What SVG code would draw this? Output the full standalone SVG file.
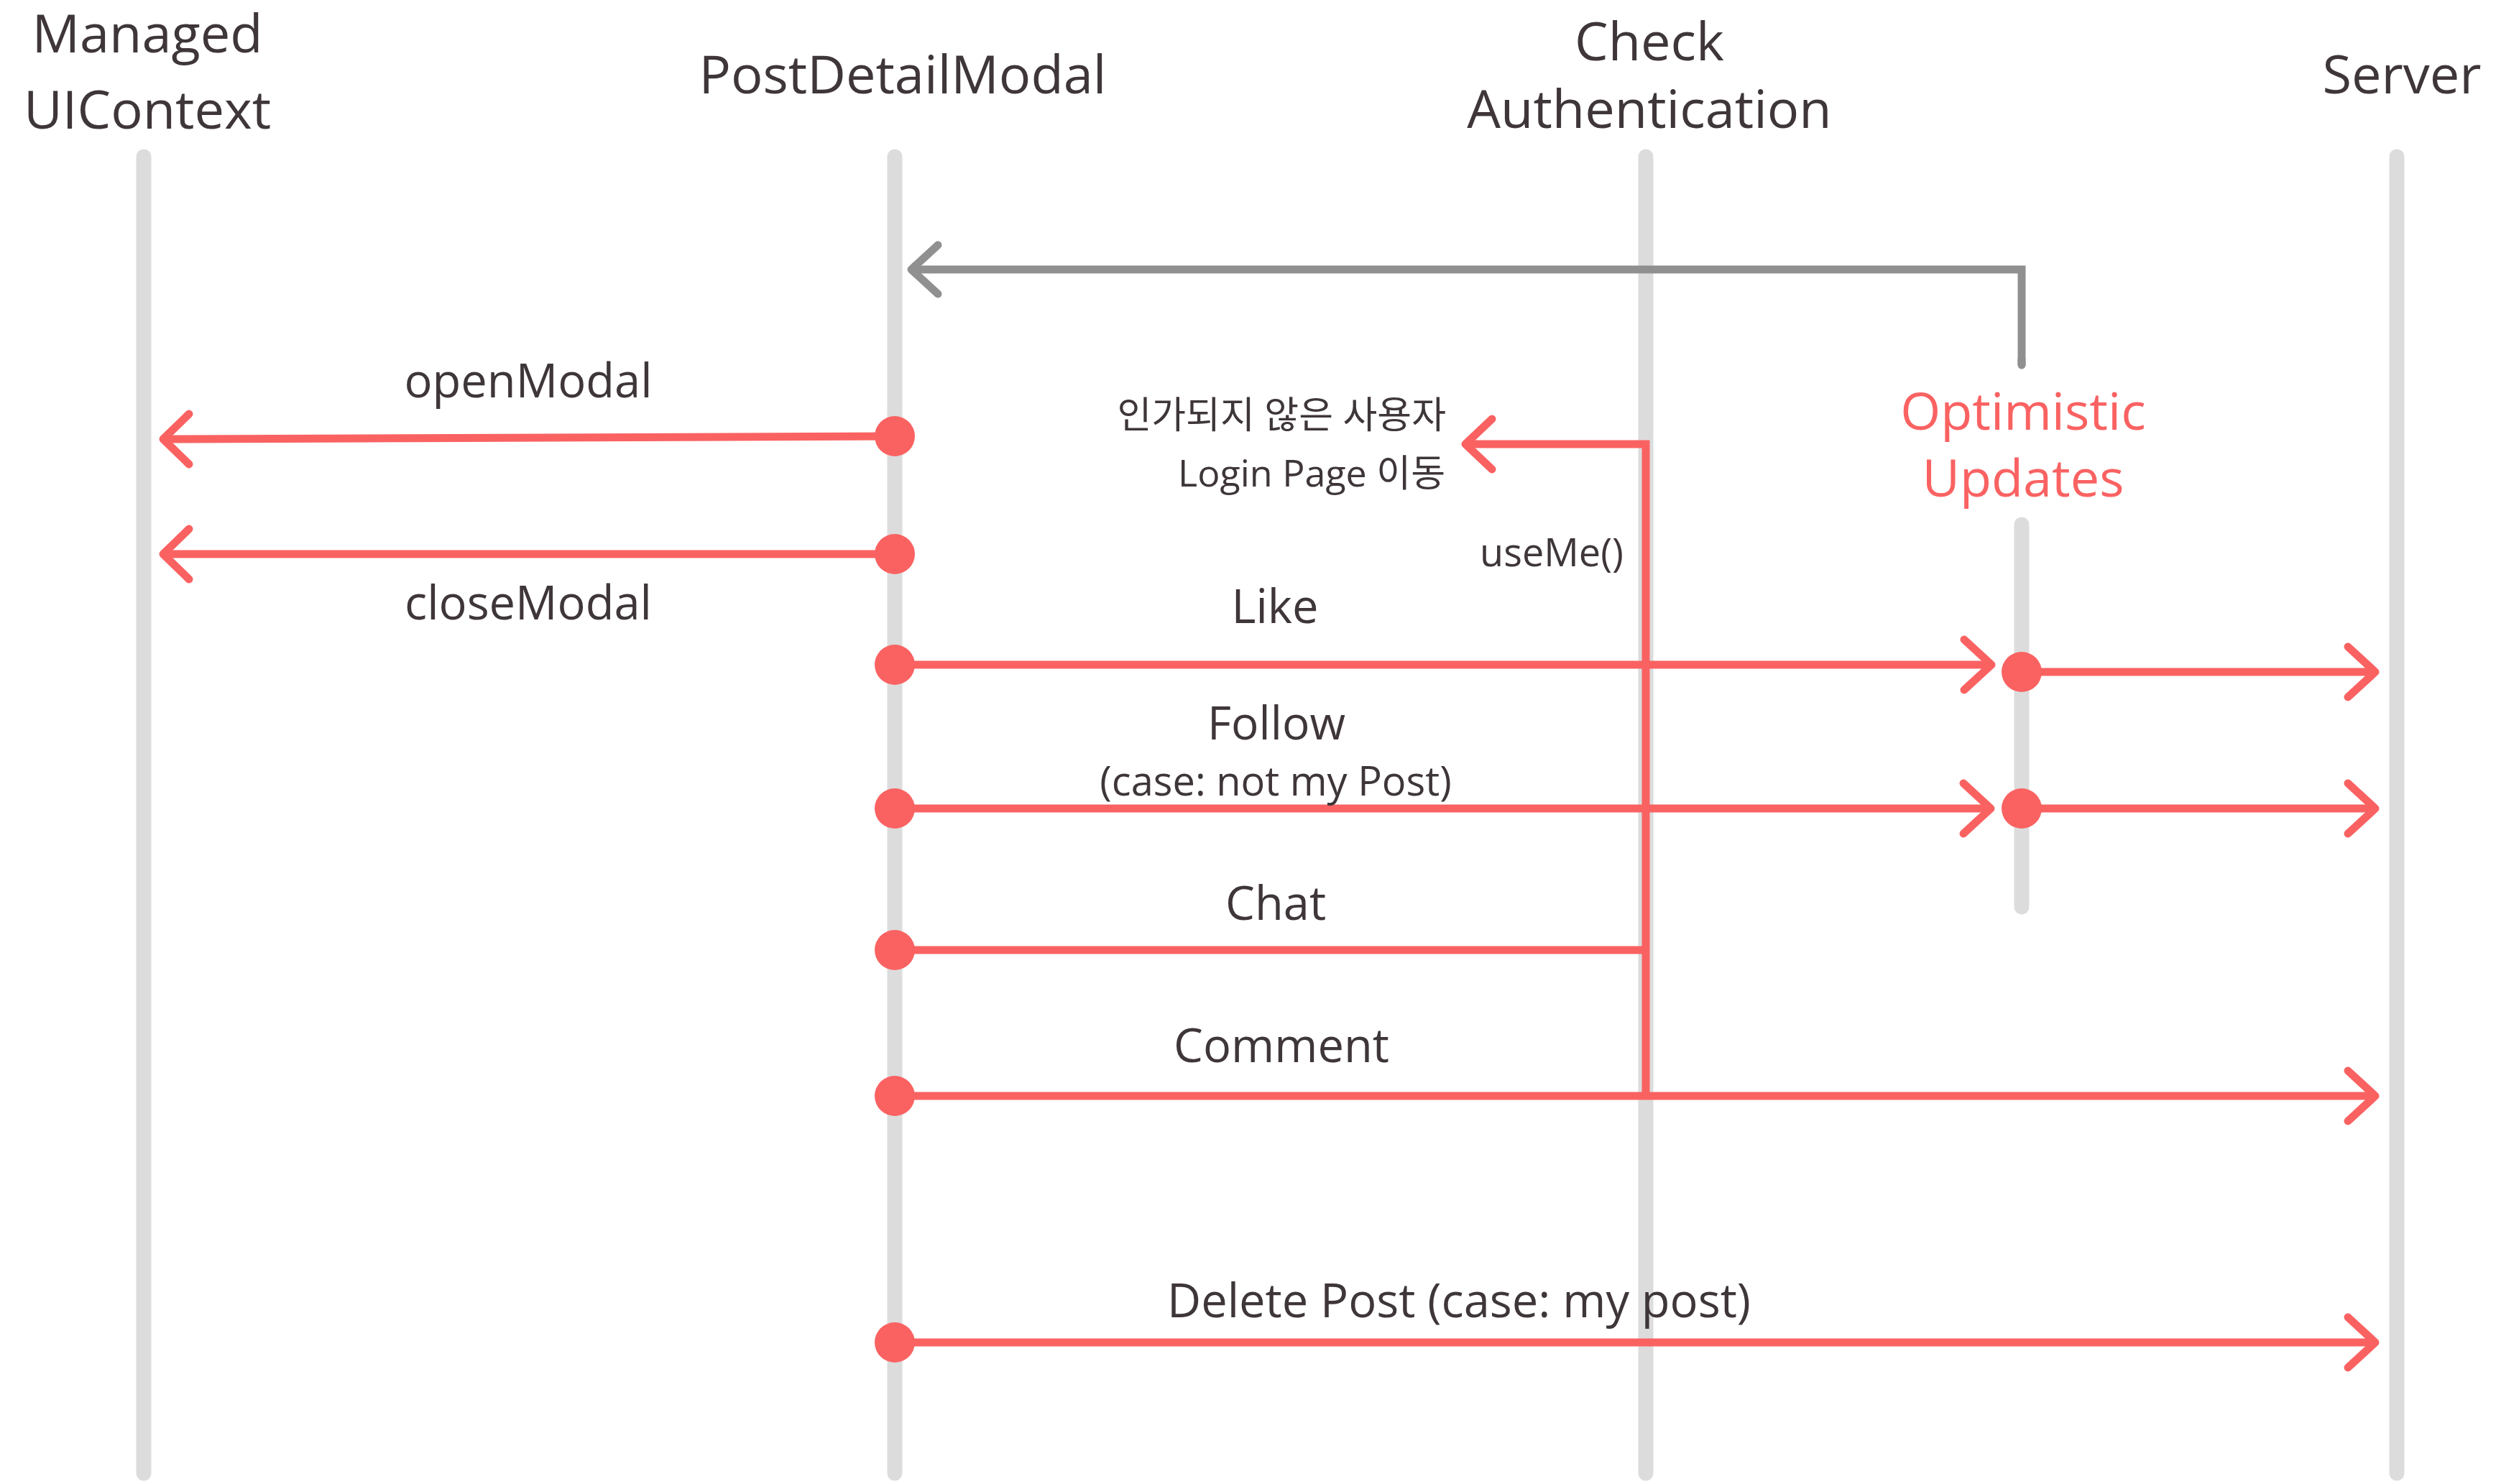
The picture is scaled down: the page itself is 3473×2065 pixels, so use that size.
<svg xmlns="http://www.w3.org/2000/svg" width="3473" height="2065" viewBox="0 0 3473 2065">
<style>
text{font-family:"Open Sans","Noto Sans CJK KR",sans-serif;fill:#3e3638}
.hdr{font-size:74px;text-anchor:middle}
.lbl{font-size:65px;text-anchor:middle}
.opt{font-size:72px;text-anchor:middle;fill:#fa6262}
.kr{font-size:52px;text-anchor:end}
.life{stroke:#dcdcdc;stroke-width:21;stroke-linecap:round;fill:none}
.msg{stroke:#fa6262;stroke-width:11;fill:none;stroke-linejoin:miter}
.head{stroke:#fa6262;stroke-width:11;fill:none;stroke-linecap:round;stroke-linejoin:round}
.gray{stroke:#909090;stroke-width:11;fill:none}
.dot{fill:#fa6262}
</style>
<rect width="3473" height="2065" fill="#ffffff"/>
<g id="node-managed-ui-context">
<line class="life" x1="200" y1="218" x2="200" y2="2050"/>
<text class="hdr" x="205" y="73">Managed</text>
<text class="hdr" x="205" y="179">UIContext</text>
</g>
<g id="node-post-detail-modal">
<line class="life" x1="1245" y1="218" x2="1245" y2="2050"/>
<text class="hdr" x="1256" y="130">PostDetailModal</text>
</g>
<g id="node-check-authentication">
<line class="life" x1="2290" y1="218" x2="2290" y2="2050"/>
<text class="hdr" x="2295" y="84">Check</text>
<text class="hdr" x="2295" y="178">Authentication</text>
</g>
<g id="node-optimistic-updates">
<line class="life" x1="2813" y1="730" x2="2813" y2="1262"/>
<text class="opt" x="2815" y="598">Optimistic</text>
<text class="opt" x="2815" y="691">Updates</text>
</g>
<g id="node-server">
<line class="life" x1="3335" y1="218" x2="3335" y2="2050"/>
<text class="hdr" x="3342" y="130">Server</text>
</g>
<g id="connectors">
<path class="gray" d="M2813 508 V375 H1270" stroke-linejoin="miter"/>
<line x1="2813" y1="508" x2="2813" y2="500" class="gray" stroke-linecap="round"/>
<polyline class="gray" points="1305,341 1268,375 1305,409" stroke-linecap="round" stroke-linejoin="round"/>
<line class="msg" x1="1245" y1="607" x2="230" y2="611"/>
<polyline class="head" points="263,576 227,611 263,646"/>
<line class="msg" x1="1245" y1="771" x2="230" y2="771"/>
<polyline class="head" points="263,736 227,771 263,806"/>
<path class="msg" d="M2290 1525 V618 H2040"/>
<polyline class="head" points="2076,583 2039,618 2076,653"/>
<line class="msg" x1="1245" y1="925" x2="2768" y2="925"/>
<polyline class="head" points="2733,890 2771,925 2733,960"/>
<line class="msg" x1="2813" y1="935" x2="3302" y2="935"/>
<polyline class="head" points="3267,900 3305,935 3267,970"/>
<line class="msg" x1="1245" y1="1125" x2="2767" y2="1125"/>
<polyline class="head" points="2732,1090 2770,1125 2732,1160"/>
<line class="msg" x1="2813" y1="1125" x2="3302" y2="1125"/>
<polyline class="head" points="3267,1090 3305,1125 3267,1160"/>
<line class="msg" x1="1245" y1="1322" x2="2290" y2="1322"/>
<line class="msg" x1="1245" y1="1525" x2="3302" y2="1525"/>
<polyline class="head" points="3267,1490 3305,1525 3267,1560"/>
<line class="msg" x1="1245" y1="1868" x2="3302" y2="1868"/>
<polyline class="head" points="3267,1833 3305,1868 3267,1903"/>
<circle class="dot" cx="1245" cy="607" r="28"/>
<circle class="dot" cx="1245" cy="771" r="28"/>
<circle class="dot" cx="1245" cy="925" r="28"/>
<circle class="dot" cx="1245" cy="1125" r="28"/>
<circle class="dot" cx="1245" cy="1322" r="28"/>
<circle class="dot" cx="1245" cy="1525" r="28"/>
<circle class="dot" cx="1245" cy="1868" r="28"/>
<circle class="dot" cx="2813" cy="935" r="28"/>
<circle class="dot" cx="2813" cy="1125" r="28"/>
<text class="lbl" x="735" y="553">openModal</text>
<text class="lbl" x="735" y="862">closeModal</text>
<text class="kr" x="2012" y="596">인가되지 않은 사용자</text>
<text class="kr" x="2011" y="677">Login Page 이동</text>
<text x="2259" y="788" style="font-size:54px;text-anchor:end">useMe()</text>
<text class="lbl" x="1774" y="867">Like</text>
<text style="text-anchor:middle"><tspan x="1776" y="1029" style="font-size:64px">Follow</tspan><tspan x="1775" y="1107" style="font-size:56px">(case: not my Post)</tspan></text>
<text class="lbl" x="1775" y="1280">Chat</text>
<text class="lbl" x="1783" y="1478">Comment</text>
<text class="lbl" x="2030" y="1833">Delete Post (case: my post)</text>
</g>
</svg>
